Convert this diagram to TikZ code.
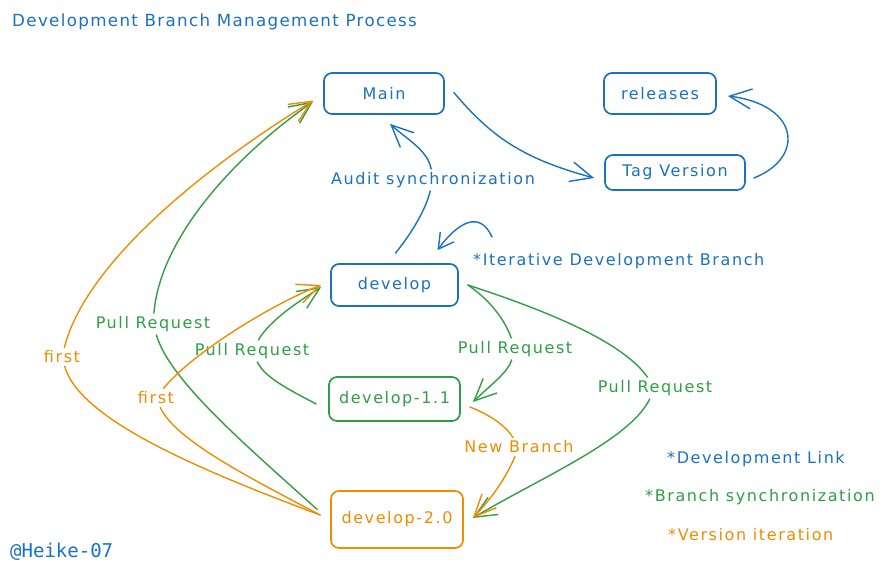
\documentclass[tikz,border=0pt]{standalone}
\usepackage{fontspec}
\newfontfamily\handfam[LetterSpace=10]{DejaVu Sans}
\newfontfamily\titlefam[LetterSpace=8]{DejaVu Sans}
\newfontfamily\monofam{DejaVu Sans Mono}
\usetikzlibrary{arrows.meta,calc}
\definecolor{cblue}{HTML}{1971C2}
\definecolor{cgreen}{HTML}{2F9E44}
\definecolor{corange}{HTML}{F08C00}
\newcommand\labfont{\handfam\fontsize{16}{19}\selectfont}
\begin{document}
\begin{tikzpicture}[x=1pt,y=-1pt,line cap=round,line join=round,
  box/.style={draw,rounded corners=8pt,line width=1.7pt,inner sep=0pt,font=\labfont},
  lbl/.style={font=\labfont,inner sep=3pt},
  conn/.style={line width=1.4pt},
  arr/.style={-{Straight Barb[length=22pt,width=20pt]}}]
\useasboundingbox (0,0) rectangle (884,574);
% title & signature
\node[anchor=west,cblue,font=\titlefam\fontsize{16.7}{20}\selectfont,inner sep=0pt] (title) at (12,22) {Development Branch Management Process};
\node[anchor=west,cblue,font=\monofam\fontsize{19}{22}\selectfont,inner sep=0pt] (sig) at (10,552) {@Heike-07};
% boxes
\node[box,cblue,minimum width=120pt,minimum height=41pt] (main) at (384,93.5) {Main};
\node[box,cblue,minimum width=112pt,minimum height=41pt] (rel) at (660,93.5) {releases};
\node[box,cblue,minimum width=140pt,minimum height=35pt] (tag) at (675,172.5) {Tag Version};
\node[box,cblue,minimum width=127pt,minimum height=42pt] (dev) at (394.5,285) {develop};
\node[box,cgreen,minimum width=131pt,minimum height=44pt] (d11) at (394.5,399) {develop-1.1};
\node[box,corange,minimum width=132pt,minimum height=57pt] (d20) at (397,519.5) {develop-2.0};
% labels
\node[lbl,cblue] (audit) at (433,180) {Audit synchronization};
\node[lbl,cgreen] (pr1) at (515,349) {Pull Request};
\node[lbl,cgreen] (pr2) at (655,388) {Pull Request};
\node[lbl,corange] (nb) at (519,447) {New Branch};
\node[lbl,cgreen] (pr3) at (252,351) {Pull Request};
\node[lbl,corange] (f2) at (156,398) {first};
\node[lbl,corange] (f1) at (62,357) {first};
\node[lbl,cgreen] (prA) at (153,324) {Pull Request};
\node[lbl,cblue,anchor=west,inner sep=0pt] (iter) at (473,261) {*Iterative Development Branch};
% legend
\node[lbl,cblue,anchor=west,inner sep=0pt] (lg1) at (667,459) {*Development Link};
\node[lbl,cgreen,anchor=west,inner sep=0pt] (lg2) at (645,497) {*Branch synchronization};
\node[lbl,corange,anchor=west,inner sep=0pt] (lg3) at (668,535) {*Version iteration};
% blue connectors
\draw[conn,cblue,arr] ($(main.east)+(9,-1)$) .. controls (490,135) and (520,158) .. ($(tag.west)+(-10,5.5)$);
\draw[conn,cblue,arr] ($(tag.east)+(8,5.5)$) .. controls (805,158) and (800,105) .. ($(rel.east)+(11,2.5)$);
\draw[conn,cblue] ($(dev.north)+(1,-10)$) .. controls (410,235) and (425,212) .. (audit);
\draw[conn,cblue,arr] (audit) .. controls (428,150) and (405,138) .. ($(main.south)+(6,9)$);
\coordinate (iterstart) at (492,237);
\draw[conn,cblue,-{Straight Barb[length=15pt,width=17pt]}] (iterstart) .. controls (480,210) and (458,222) .. ($(dev.north)+(43,-13)$);
% green connectors
\draw[conn,cgreen] ($(dev.east)+(9,0)$) .. controls (490,300) and (505,320) .. (pr1);
\draw[conn,cgreen,arr] (pr1) .. controls (508,372) and (493,383) .. ($(d11.east)+(12,3)$);
\draw[conn,cgreen] ($(dev.east)+(9,0)$) .. controls (560,315) and (625,345) .. (pr2);
\draw[conn,cgreen,arr] (pr2) .. controls (630,440) and (540,478) .. ($(d20.east)+(9,-1.5)$);
\draw[conn,cgreen] ($(d11.west)+(-12,5)$) .. controls (290,390) and (265,378) .. (pr3);
\draw[conn,cgreen,arr] (pr3) .. controls (270,320) and (298,302) .. ($(dev.west)+(-9,2)$);
\draw[conn,cgreen] ($(d20.west)+(-13,-10)$) .. controls (240,440) and (170,380) .. (prA);
\draw[conn,cgreen,arr] (prA) .. controls (160,240) and (230,160) .. ($(main.west)+(-10,8)$);
% orange connectors
\draw[conn,corange] ($(d11.east)+(9,8)$) .. controls (490,415) and (505,425) .. (nb);
\draw[conn,corange,arr] (nb) .. controls (505,480) and (490,500) .. ($(d20.east)+(9,-1.5)$);
\draw[conn,corange] ($(d20.west)+(-10,-4.5)$) .. controls (250,478) and (175,440) .. (f2);
\draw[conn,corange,arr] (f2) .. controls (190,355) and (270,305) .. ($(dev.west)+(-9,0)$);
\draw[conn,corange] ($(d20.west)+(-10,-4.5)$) .. controls (200,470) and (80,420) .. (f1);
\draw[conn,corange,arr] (f1) .. controls (85,265) and (200,170) .. ($(main.west)+(-10,7)$);
\end{tikzpicture}
\end{document}
